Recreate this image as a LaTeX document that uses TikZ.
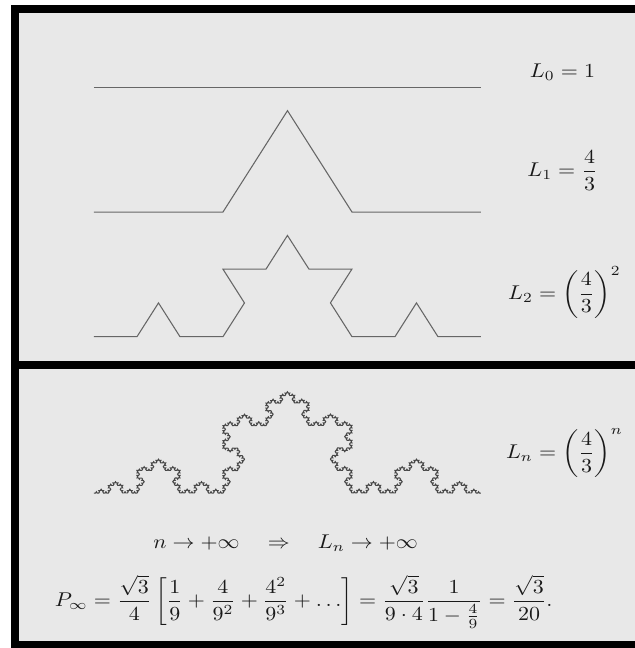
\documentclass[tikz,border=0pt]{standalone}
\usepackage{amsmath,amssymb}
\usepackage{tikz}
\usetikzlibrary{decorations.fractals}

\begin{document}
\begin{tikzpicture}[
            x=1cm, y=1cm,
            panel/.style  ={fill=black!9},
            frame/.style  ={fill=black},
            curve/.style  ={draw=black!60, line width=0.5pt},
            curven/.style ={draw=black!72, line width=0.5pt},
            koch/.style   ={decoration=Koch snowflake},
            flat/.style   ={transform canvas={yscale=0.907}},
            lbl/.style    ={anchor=base, inner sep=0pt, text=black!90,
                            yscale=0.907, transform shape}
        ]

        \useasboundingbox (0,0) rectangle (10.16,10.368);
        \fill[white] (0,0) rectangle (10.16,10.368);
        \fill[frame] (0.176,0) rectangle (10.16,10.288);
        \fill[panel] (0.304,4.592) rectangle (10.16,10.16);
        \fill[panel] (0.304,0.112) rectangle (10.16,4.464);

        % every level replaces each segment by four; bumps are flattened
        % to the aspect of the original (base lines divided back by 0.907)
        \draw[curve] (1.504,8.968) -- (7.696,8.968);
        \begin{scope}[flat]
            \draw[curve, koch] decorate{(1.504,6.976/0.907) -- (7.696,6.976/0.907)};
            \draw[curve, koch] decorate{decorate{(1.504,4.981/0.907) -- (7.696,4.981/0.907)}};
            \draw[curven, koch] decorate{decorate{decorate{decorate{decorate{
                  (1.504,2.48/0.907) -- (7.696,2.48/0.907)}}}}};
        \end{scope}

        \node[lbl] (lzero) at (9.0,9.13) {$L_0 = 1$};
        \node[lbl] (lone)  at (9.0,7.544) {$L_1 = \dfrac{4}{3}$};
        \node[lbl] (ltwo)  at (9.03,5.58) {$L_2 = \left(\dfrac{4}{3}\right)^2$};
        \node[lbl] (lenn)  at (9.03,3.032) {$L_n = \left(\dfrac{4}{3}\right)^n$};

        \node[lbl] (limit) at (4.57,1.59)
              {$n \to +\infty \quad\Rightarrow\quad L_n \to +\infty$};
        \node[lbl] (area)  at (4.86,0.66)
              {$\displaystyle P_\infty = \frac{\sqrt{3}}{4}
               \left[\frac{1}{9} + \frac{4}{9^2} + \frac{4^2}{9^3} + \ldots\right]
               = \frac{\sqrt{3}}{9\cdot 4}\frac{1}{1-\frac{4}{9}}
               = \frac{\sqrt{3}}{20}.$};

    \end{tikzpicture}
\end{document}
